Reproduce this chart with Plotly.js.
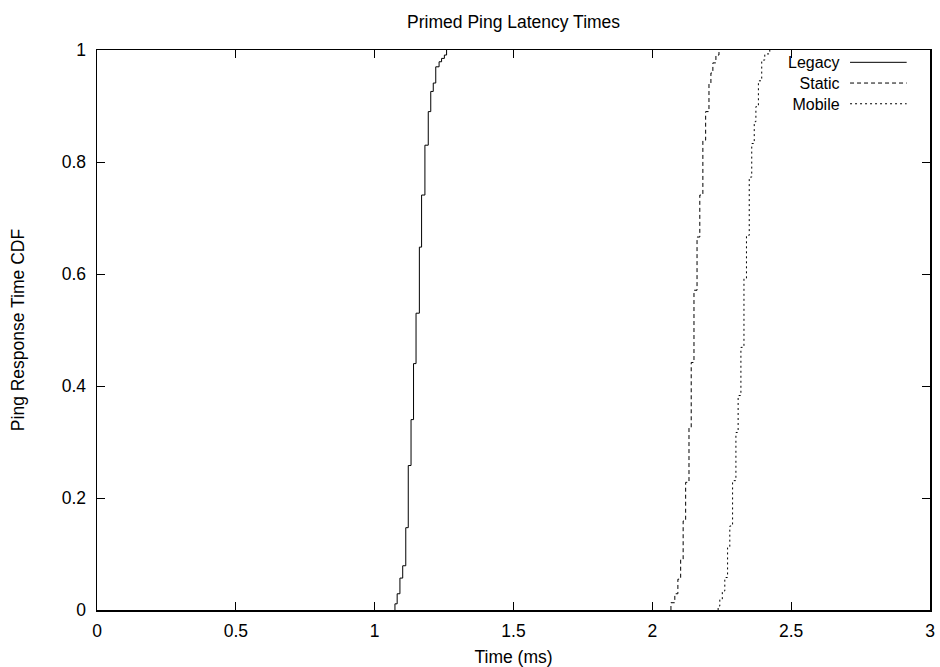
<!DOCTYPE html>
<html>
<head>
<meta charset="utf-8">
<script src="https://cdn.plot.ly/plotly-3.0.1.min.js"></script>
<style>html,body{margin:0;padding:0;background:#fff;}#chart{width:940px;height:667px;}</style>
</head>
<body>
<div id="chart"></div>
<script>
// Legacy: latency (ms) at each step, and CDF level reached at that step
const legacyX = [1.073, 1.073, 1.081, 1.091, 1.101, 1.112, 1.121, 1.131, 1.140, 1.149, 1.161, 1.169, 1.181, 1.193, 1.202, 1.211, 1.220, 1.232, 1.241, 1.251, 1.259];
const legacyY = [0.000, 0.011, 0.029, 0.057, 0.079, 0.147, 0.258, 0.340, 0.440, 0.530, 0.648, 0.741, 0.830, 0.890, 0.926, 0.941, 0.970, 0.979, 0.985, 0.991, 1.000];

const staticX = [2.067, 2.067, 2.081, 2.092, 2.102, 2.111, 2.120, 2.132, 2.140, 2.150, 2.161, 2.171, 2.182, 2.192, 2.204, 2.211, 2.218, 2.229, 2.240];
const staticY = [0.000, 0.013, 0.029, 0.055, 0.091, 0.159, 0.228, 0.326, 0.442, 0.571, 0.666, 0.741, 0.839, 0.890, 0.941, 0.959, 0.977, 0.991, 1.000];

const mobileX = [2.237, 2.237, 2.243, 2.252, 2.261, 2.271, 2.279, 2.289, 2.301, 2.309, 2.319, 2.330, 2.339, 2.349, 2.358, 2.367, 2.373, 2.382, 2.394, 2.405, 2.423];
const mobileY = [0.000, 0.007, 0.019, 0.034, 0.058, 0.111, 0.150, 0.231, 0.317, 0.383, 0.469, 0.592, 0.669, 0.773, 0.833, 0.872, 0.899, 0.945, 0.982, 0.993, 1.000];

const seriesNames = ["Legacy", "Static", "Mobile"];
const xTicks = [0, 0.5, 1, 1.5, 2, 2.5, 3];
const xTickText = ["0", "0.5", "1", "1.5", "2", "2.5", "3"];
const yTicks = [0, 0.2, 0.4, 0.6, 0.8, 1];
const yTickText = ["0", "0.2", "0.4", "0.6", "0.8", "1"];

const dashes = ["solid", "4px,3px", "2px,3px"];
const font = "Liberation Sans, Arial, Helvetica, sans-serif";
const fs = 17.5;
const keyFs = 16;

const traces = [
  {x: legacyX, y: legacyY, name: seriesNames[0]},
  {x: staticX, y: staticY, name: seriesNames[1]},
  {x: mobileX, y: mobileY, name: seriesNames[2]}
].map((t, i) => Object.assign(t, {
  type: "scatter", mode: "lines",
  line: {color: "#000", width: 1, dash: dashes[i], shape: "hv"},
  showlegend: false, hoverinfo: "skip"
}));

// Gnuplot-style key: right-aligned labels (one text block) then line samples
const keyY = [0.978, 0.941, 0.904];
const annotations = [{
  xref: "paper", yref: "paper", x: 0.894, y: keyY[1],
  xanchor: "right", yanchor: "middle", align: "right", showarrow: false,
  text: seriesNames.join("<br>"), font: {family: font, size: keyFs, color: "#000"}
}];
const shapes = seriesNames.map((n, i) => ({
  type: "line", xref: "paper", yref: "paper",
  x0: 0.904, x1: 0.972, y0: keyY[i], y1: keyY[i],
  line: {color: "#000", width: 1, dash: dashes[i]}
}));

const axisCommon = {
  showline: true, linecolor: "#000", linewidth: 1.5, mirror: "ticks",
  ticks: "inside", ticklen: 8, tickcolor: "#000", tickwidth: 1,
  showgrid: false, zeroline: false,
  tickfont: {family: font, size: fs, color: "#000"}
};

const layout = {
  width: 940, height: 667,
  paper_bgcolor: "#fff", plot_bgcolor: "#fff",
  margin: {l: 97, r: 10, t: 50, b: 57, pad: 0},
  title: {text: "Primed Ping Latency Times", x: 0.5464, xanchor: "center", y: 0.967, yanchor: "middle",
          font: {family: font, size: fs, color: "#000"}},
  xaxis: Object.assign({}, axisCommon, {
    range: [0, 3], tickvals: xTicks, ticktext: xTickText, ticklabelstandoff: 4,
    title: {text: "Time (ms)", standoff: 12, font: {family: font, size: fs, color: "#000"}}
  }),
  yaxis: Object.assign({}, axisCommon, {
    range: [0, 1], tickvals: yTicks, ticktext: yTickText, ticklabelstandoff: 6,
    title: {text: "Ping Response Time CDF", standoff: 32, font: {family: font, size: fs, color: "#000"}}
  }),
  annotations: annotations,
  shapes: shapes
};

Plotly.newPlot("chart", traces, layout, {staticPlot: true, displayModeBar: false});
</script>
</body>
</html>
